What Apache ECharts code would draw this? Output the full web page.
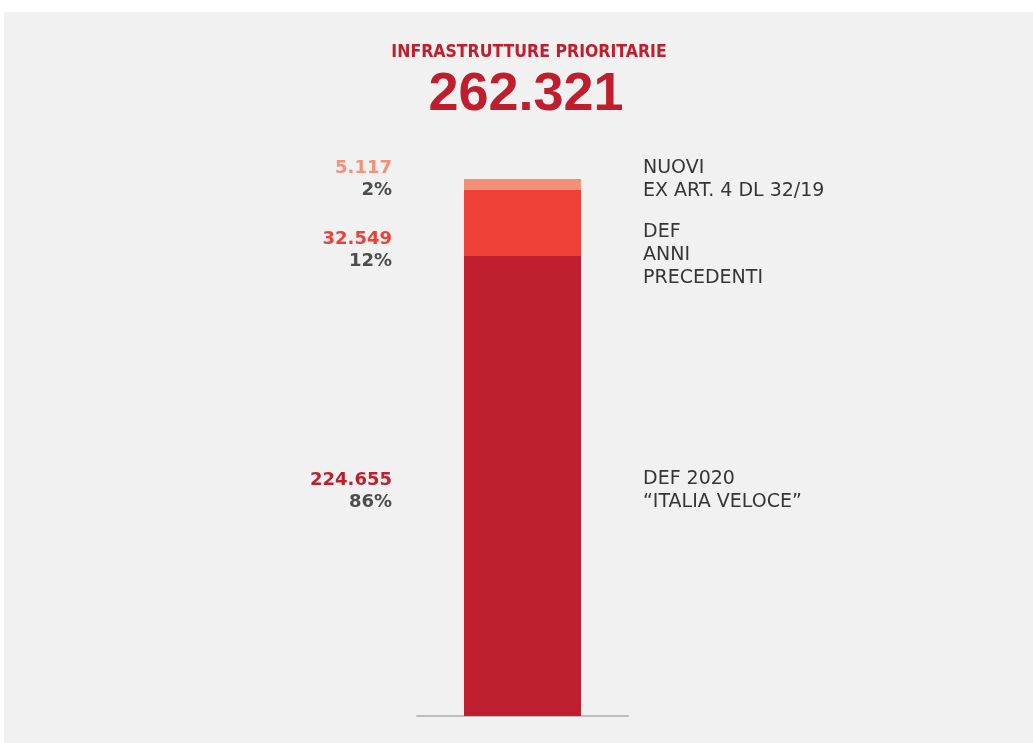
<!DOCTYPE html>
<html>
<head>
<meta charset="utf-8">
<script src="https://cdn.jsdelivr.net/npm/echarts@6/dist/echarts.min.js"></script>
<style>
  html, body { margin: 0; padding: 0; background: #fff; }
  #panel { position: absolute; left: 4px; top: 12px; width: 1029px; height: 731px; background: #f1f1f1; }
  #main { position: absolute; left: 0; top: 0; width: 1033px; height: 743px; }
</style>
</head>
<body>
<div id="panel"></div>
<div id="main"></div>
<script>
// valori (in milioni di euro), dal basso verso l'alto
const segNames = ["DEF 2020\n“ITALIA VELOCE”", "DEF\nANNI\nPRECEDENTI", "NUOVI\nEX ART. 4 DL 32/19"];
const segValues = [224655, 32549, 5117];
const segPct = ["86%", "12%", "2%"];
const segColors = ["#be1e2d", "#ef4037", "#f58f76"];
// spostamento verticale delle etichette rispetto al centro del segmento
const leftOffsets = [5, 28, -5];
const rightOffsets = [5, 32, -5];

const total = segValues.reduce((a, b) => a + b, 0);
const fmt = (n) => String(n).replace(/\B(?=(\d{3})+(?!\d))/g, ".");

const chart = echarts.init(document.getElementById("main"));

const series = [];
segValues.forEach((v, i) => {
  // barra visibile, etichetta a sinistra (valore + percentuale)
  series.push({
    type: "bar",
    stack: "tot",
    barWidth: 117,
    barGap: "-100%",
    silent: true,
    data: [v],
    itemStyle: { color: segColors[i] },
    label: {
      show: true,
      position: "left",
      distance: 72,
      offset: [0, leftOffsets[i]],
      align: "right",
      formatter: () => "{v|" + fmt(v) + "}\n{p|" + segPct[i] + "}",
      rich: {
        v: { fontFamily: "DejaVu Sans", fontWeight: "bold", fontSize: 18, color: segColors[i], lineHeight: 22, align: "right" },
        p: { fontFamily: "DejaVu Sans", fontWeight: "bold", fontSize: 18, color: "#4d4d4d", lineHeight: 22, align: "right" }
      }
    }
  });
});
segValues.forEach((v, i) => {
  // serie trasparente sovrapposta, solo per l'etichetta a destra
  series.push({
    type: "bar",
    stack: "desc",
    barWidth: 117,
    barGap: "-100%",
    silent: true,
    data: [v],
    itemStyle: { color: "rgba(0,0,0,0)" },
    label: {
      show: true,
      position: "right",
      distance: 62,
      offset: [0, rightOffsets[i]],
      formatter: segNames[i],
      fontFamily: "DejaVu Sans",
      fontSize: 19,
      lineHeight: 23,
      color: "#363636"
    }
  });
});

chart.setOption({
  backgroundColor: "transparent",
  animation: false,
  title: [
    {
      text: "INFRASTRUTTURE PRIORITARIE",
      left: 524,
      top: 38,
      textAlign: "center",
      textStyle: { fontFamily: "'Liberation Sans Narrow', 'DejaVu Sans Condensed', sans-serif", fontWeight: "bold", fontSize: 17.5, color: "#be1e2d" }
    },
    {
      text: fmt(total),
      left: 521,
      top: 63,
      textAlign: "center",
      textStyle: { fontFamily: "'Liberation Sans', sans-serif", fontWeight: "bold", fontSize: 54, color: "#be1e2d" }
    }
  ],
  grid: { left: 417, width: 211, top: 179, height: 537 },
  xAxis: {
    type: "category",
    data: [""],
    offset: 1,
    axisLine: { show: true, lineStyle: { color: "#bdbdbd", width: 2 } },
    axisTick: { show: false },
    axisLabel: { show: false }
  },
  yAxis: {
    type: "value",
    min: 0,
    max: total,
    show: false,
    splitLine: { show: false }
  },
  series: series
});
</script>
</body>
</html>
